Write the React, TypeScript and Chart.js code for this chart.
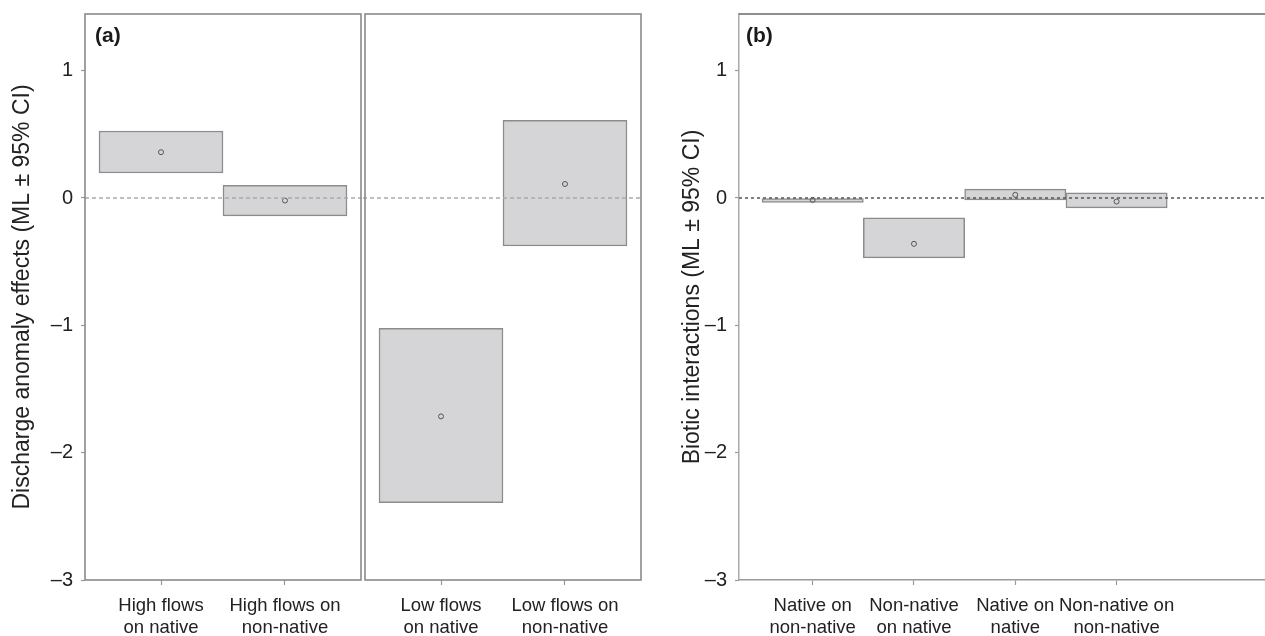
import React, { useEffect, useRef } from "react";
import { Chart, registerables } from "chart.js";

Chart.register(...registerables);

const FONT = "'Liberation Sans', Arial, Helvetica, sans-serif";

// ---- Data ----
const highFlowLabels = [["High flows", "on native"], ["High flows on", "non-native"]];
const highFlowML = [0.36, -0.02];
const highFlowLower = [0.196, -0.141];
const highFlowUpper = [0.526, 0.1];

const lowFlowLabels = [["Low flows", "on native"], ["Low flows on", "non-native"]];
const lowFlowML = [-1.715, 0.11];
const lowFlowLower = [-2.393, -0.377];
const lowFlowUpper = [-1.024, 0.61];

const bioticLabels = [
  ["Native on", "non-native"],
  ["Non-native", "on native"],
  ["Native on", "native"],
  ["Non-native on", "non-native"],
];
const bioticML = [-0.015, -0.36, 0.025, -0.028];
const bioticLower = [-0.035, -0.47, -0.015, -0.078];
const bioticUpper = [0.0, -0.155, 0.07, 0.04];

const yTickValues = [-3, -2, -1, 0, 1];
const yTickLabels = ["\u20133", "\u20132", "\u20131", "0", "1"];
const Y_MIN = -3;
const Y_MAX = 1.445;

const X_AXIS_HEIGHT = 56;

type PanelSpec = {
  labels: string[][];
  ml: number[];
  lower: number[];
  upper: number[];
  xMin: number;
  xMax: number;
  showY: boolean;
  yTitle?: string;
  yWidth?: number;
  yTitlePad?: number;
  padding: { left: number; right: number; top: number; bottom: number };
  frame: "box" | "open";
  zeroColor: string;
  zeroDash: number[];
  zeroExtendLeft: boolean;
  zeroExtendRight: boolean;
  panelLabel?: string;
  panelLabelDx?: number;
};

function buildConfig(s: PanelSpec): any {
  const xs = s.labels.map((_, i) => i + 1);
  const boxData = xs.map((x, i) => ({ x, y: [s.lower[i], s.upper[i]] }));
  const pointData = xs.map((x, i) => ({ x, y: s.ml[i] }));

  const overlay = {
    id: "overlay",
    afterDatasetsDraw(chart: any) {
      const { ctx, chartArea: a, scales } = chart;
      const y0 = scales.y.getPixelForValue(0);
      ctx.save();
      ctx.strokeStyle = s.zeroColor;
      ctx.lineWidth = 1.5;
      ctx.setLineDash(s.zeroDash);
      ctx.beginPath();
      ctx.moveTo(s.zeroExtendLeft ? 0 : a.left, y0);
      ctx.lineTo(s.zeroExtendRight ? chart.width : a.right, y0);
      ctx.stroke();
      ctx.setLineDash([]);
      if (s.frame === "box") {
        ctx.strokeStyle = "#8a8a8a";
        ctx.lineWidth = 1.6;
        ctx.strokeRect(a.left, a.top, a.right - a.left, a.bottom - a.top);
      } else {
        ctx.strokeStyle = "#6a6a6a";
        ctx.lineWidth = 1.5;
        ctx.beginPath();
        ctx.moveTo(a.left, a.top);
        ctx.lineTo(a.right, a.top);
        ctx.stroke();
      }
      if (s.panelLabel) {
        ctx.fillStyle = "#1a1a1a";
        ctx.font = `bold 21px ${FONT}`;
        ctx.textBaseline = "alphabetic";
        ctx.textAlign = "left";
        ctx.fillText(s.panelLabel, a.left + (s.panelLabelDx ?? 10), a.top + 28);
      }
      ctx.restore();
    },
  };

  const yScale: any = {
    display: s.showY,
    min: Y_MIN,
    max: Y_MAX,
    afterBuildTicks: (sc: any) => {
      sc.ticks = yTickValues.map((v) => ({ value: v }));
    },
    ticks: {
      padding: 8,
      color: "#222",
      font: { family: FONT, size: 20 },
      callback: (_v: any, i: number) => yTickLabels[i],
    },
    grid: {
      display: true,
      drawOnChartArea: false,
      drawTicks: true,
      tickLength: 4,
      tickColor: "#999",
      tickWidth: 1.2,
    },
    border: { display: s.frame === "open", color: "#aaa", width: 1.5 },
    title: {
      display: !!s.yTitle,
      text: s.yTitle || "",
      color: "#222",
      font: { family: FONT, size: 23 },
      padding: { top: s.yTitlePad ?? 0, bottom: 0 },
    },
  };
  if (s.showY) {
    yScale.afterFit = (sc: any) => {
      sc.width = s.yWidth;
      sc.paddingTop = 0;
      sc.paddingBottom = 0;
    };
  }

  return {
    type: "bar",
    data: {
      datasets: [
        {
          type: "bar",
          data: boxData,
          backgroundColor: "#d5d5d7",
          borderColor: "#8c8c8c",
          borderWidth: 1.5,
          borderSkipped: false,
          categoryPercentage: 1,
          barPercentage: 1,
          order: 2,
        },
        {
          type: "scatter",
          data: pointData,
          pointRadius: 2.5,
          pointBorderWidth: 1,
          pointBackgroundColor: "rgba(0,0,0,0)",
          pointBorderColor: "#555",
          showLine: false,
          order: 1,
        },
      ],
    },
    options: {
      responsive: false,
      animation: false,
      devicePixelRatio: 1,
      layout: { padding: s.padding, autoPadding: false },
      plugins: { legend: { display: false }, tooltip: { enabled: false } },
      scales: {
        x: {
          type: "linear",
          min: s.xMin,
          max: s.xMax,
          offset: false,
          bounds: "data",
          afterBuildTicks: (sc: any) => {
            sc.ticks = xs.map((v) => ({ value: v }));
          },
          afterFit: (sc: any) => {
            sc.height = X_AXIS_HEIGHT;
            sc.paddingLeft = 0;
            sc.paddingRight = 0;
          },
          ticks: {
            autoSkip: false,
            maxRotation: 0,
            minRotation: 0,
            padding: 10,
            color: "#222",
            font: { family: FONT, size: 18.5, lineHeight: 1.19 },
            callback: (_v: any, i: number) => s.labels[i],
          },
          grid: {
            display: true,
            offset: false,
            drawOnChartArea: false,
            drawTicks: true,
            tickLength: 5,
            tickColor: "#999",
            tickWidth: 1.2,
          },
          border: { display: s.frame === "open", color: "#999", width: 1.5 },
        },
        y: yScale,
      },
    },
    plugins: [overlay],
  };
}

function Panel(props: { spec: PanelSpec; left: number; width: number }) {
  const ref = useRef<HTMLCanvasElement | null>(null);
  useEffect(() => {
    if (!ref.current) return;
    const chart = new Chart(ref.current, buildConfig(props.spec));
    return () => chart.destroy();
  }, []);
  return (
    <canvas
      ref={ref}
      width={props.width}
      height={636}
      style={{ position: "absolute", left: props.left, top: 0, width: props.width, height: 636 }}
    />
  );
}

const specHigh: PanelSpec = {
  labels: highFlowLabels,
  ml: highFlowML,
  lower: highFlowLower,
  upper: highFlowUpper,
  xMin: 0.387,
  xMax: 2.613,
  showY: true,
  yTitle: "Discharge anomaly effects (ML \u00b1 95% CI)",
  yWidth: 85,
  yTitlePad: 9,
  padding: { left: 0, right: 2, top: 14, bottom: 0 },
  frame: "box",
  zeroColor: "#aaaaaa",
  zeroDash: [4, 3],
  zeroExtendLeft: false,
  zeroExtendRight: true,
  panelLabel: "(a)",
  panelLabelDx: 10,
};

const specLow: PanelSpec = {
  labels: lowFlowLabels,
  ml: lowFlowML,
  lower: lowFlowLower,
  upper: lowFlowUpper,
  xMin: 0.387,
  xMax: 2.613,
  showY: false,
  padding: { left: 2, right: 2, top: 14, bottom: 0 },
  frame: "box",
  zeroColor: "#aaaaaa",
  zeroDash: [4, 3],
  zeroExtendLeft: true,
  zeroExtendRight: false,
};

const specBiotic: PanelSpec = {
  labels: bioticLabels,
  ml: bioticML,
  lower: bioticLower,
  upper: bioticUpper,
  xMin: 0.2725,
  xMax: 5.465,
  showY: true,
  yTitle: "Biotic interactions (ML \u00b1 95% CI)",
  yWidth: 94,
  yTitlePad: 34,
  padding: { left: 0, right: 0, top: 14, bottom: 0 },
  frame: "open",
  zeroColor: "#555555",
  zeroDash: [3, 3],
  zeroExtendLeft: false,
  zeroExtendRight: false,
  panelLabel: "(b)",
  panelLabelDx: 7,
};

export default function App() {
  return (
    <div
      style={{
        position: "absolute",
        left: 0,
        top: 0,
        width: 1265,
        height: 636,
        overflow: "hidden",
        background: "#fff",
      }}
    >
      <Panel spec={specHigh} left={0} width={363} />
      <Panel spec={specLow} left={363} width={280} />
      <Panel spec={specBiotic} left={645} width={620} />
    </div>
  );
}
